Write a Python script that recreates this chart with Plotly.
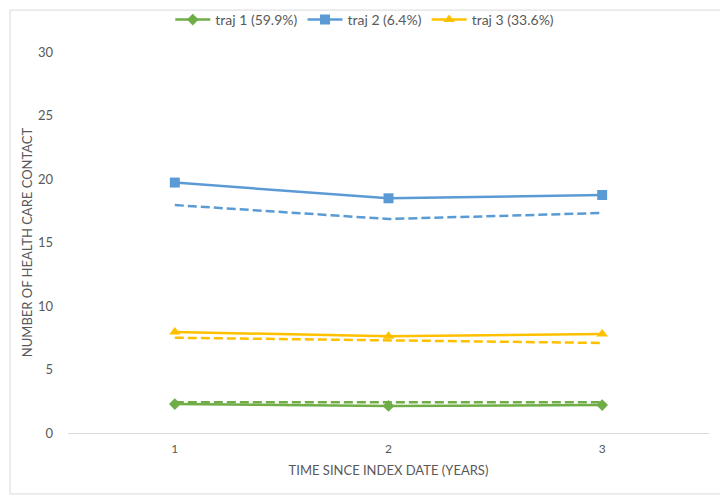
import plotly.graph_objects as go

years = [1, 2, 3]
tick_labels = ["1", "2", "3"]
series_names = ["traj 1 (59.9%)", "traj 2 (6.4%)", "traj 3 (33.6%)"]
traj1_observed = [2.28, 2.13, 2.2]
traj2_observed = [19.72, 18.48, 18.74]
traj3_observed = [7.95, 7.62, 7.8]
traj1_predicted = [2.42, 2.42, 2.42]
traj2_predicted = [17.95, 16.85, 17.32]
traj3_predicted = [7.5, 7.27, 7.09]

colors = ["#70AD47", "#5B9BD5", "#FFC000"]
symbols = ["diamond", "square", "triangle-up"]
observed = [traj1_observed, traj2_observed, traj3_observed]
predicted = [traj1_predicted, traj2_predicted, traj3_predicted]

fig = go.Figure()
for name, obs, col, sym in zip(series_names, observed, colors, symbols):
    fig.add_trace(go.Scatter(
        x=years, y=obs, name=name, mode="lines+markers",
        line=dict(color=col, width=2.5),
        marker=dict(symbol=sym, size=10 if sym != "diamond" else 9, color=col),
    ))
for pred, col in zip(predicted, colors):
    fig.add_trace(go.Scatter(
        x=years, y=pred, mode="lines", showlegend=False,
        line=dict(color=col, width=2.5, dash="9px,4px"),
        hoverinfo="skip",
    ))

font_color = "#595959"
fig.update_layout(
    width=720, height=490,
    margin=dict(l=60, r=19, t=44, b=65, autoexpand=False),
    plot_bgcolor="white", paper_bgcolor="white",
    font=dict(family="Lato, Open Sans, sans-serif", size=13, color=font_color),
    legend=dict(orientation="h", x=0.463, xanchor="center", y=1.084, yanchor="middle",
                bgcolor="rgba(0,0,0,0)",
                font=dict(size=14, color=font_color), itemwidth=35),
    xaxis=dict(
        range=[0.5, 3.5], tickvals=years, ticktext=tick_labels,
        showgrid=False, zeroline=False, showline=True, linecolor="#D9D9D9", linewidth=1,
        ticks="", ticklabelstandoff=5, tickfont=dict(size=12, color=font_color),
        title=dict(text="TIME SINCE INDEX DATE (YEARS)", font=dict(size=13, color=font_color), standoff=10),
    ),
    yaxis=dict(
        range=[0, 30], tickvals=[0, 5, 10, 15, 20, 25, 30],
        showgrid=False, zeroline=False, showline=False,
        ticks="", ticklabelstandoff=14, tickfont=dict(size=13, color=font_color),
        title=dict(text="NUMBER OF HEALTH CARE CONTACT", font=dict(size=13, color=font_color), standoff=2),
    ),
    shapes=[dict(type="rect", xref="paper", yref="paper",
                 x0=-0.0905, x1=1.025, y0=-0.160, y1=1.110,
                 line=dict(color="#D9D9D9", width=1), fillcolor="rgba(0,0,0,0)")],
)

fig.write_html("out.html")
